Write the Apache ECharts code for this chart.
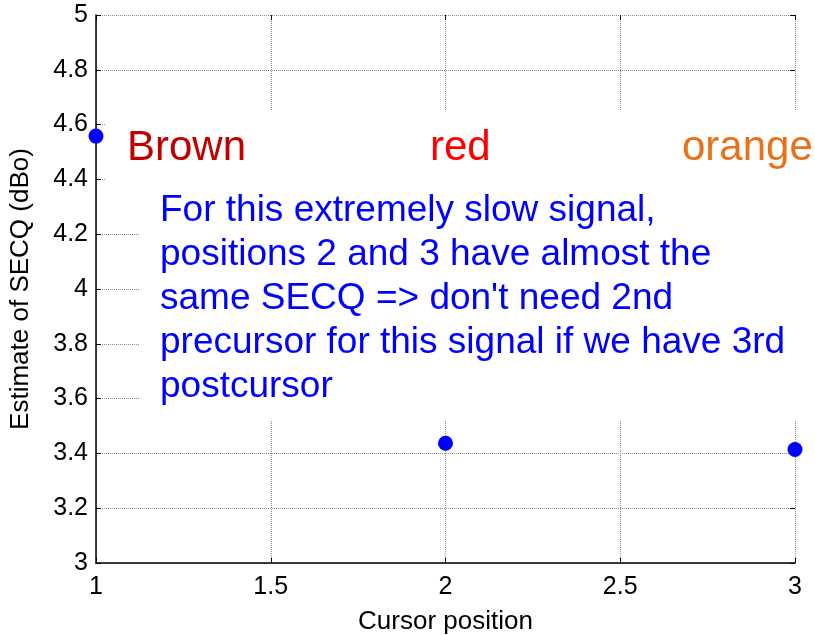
<!DOCTYPE html>
<html>
<head>
<meta charset="utf-8">
<script src="https://cdn.jsdelivr.net/npm/echarts@6/dist/echarts.min.js"></script>
<style>
  html, body { margin: 0; padding: 0; background: #fff; }
  #chart { width: 815px; height: 635px; }
</style>
</head>
<body>
<div id="chart"></div>
<script>
// cursor positions and SECQ estimates
const positions = [1, 2, 3];
const secq = [4.558, 3.437, 3.414];
// annotation texts
const colorNames = ["Brown", "red", "orange"];
const noteLines = [
  "For this extremely slow signal,",
  "positions 2 and 3 have almost the",
  "same SECQ => don't need 2nd",
  "precursor for this signal if we have 3rd",
  "postcursor"
];

const chart = echarts.init(document.getElementById("chart"));
const font = "Liberation Sans, Arial, sans-serif";

// shared settings for the frame axes (ticks pointing inward)
const gridLine = { show: true, lineStyle: { color: "#8a8a8a", width: 1, type: [1, 1] } };
const inTick = { show: true, inside: true, length: 5, lineStyle: { color: "#000" } };

const option = {
  backgroundColor: "#fff",
  animation: false,
  grid: { left: 96, right: 20, top: 15, bottom: 72, containLabel: false, outerBoundsMode: "none" },
  xAxis: [
    {
      type: "value", min: 1, max: 3, interval: 0.5,
      name: "Cursor position", nameLocation: "middle", nameGap: 46,
      nameTextStyle: { fontFamily: font, fontSize: 26, color: "#000" },
      axisLine: { show: true, onZero: false, lineStyle: { color: "#000", width: 1.5 } },
      axisTick: inTick,
      axisLabel: { fontFamily: font, fontSize: 25, color: "#000", margin: 12 },
      splitLine: gridLine
    },
    {
      type: "value", min: 1, max: 3, interval: 0.5, position: "top",
      axisLine: { show: false }, axisTick: inTick, axisLabel: { show: false }, splitLine: { show: false }
    }
  ],
  yAxis: [
    {
      type: "value", min: 3, max: 5, interval: 0.2,
      name: "Estimate of SECQ (dBo)", nameLocation: "middle", nameGap: 62,
      nameTextStyle: { fontFamily: font, fontSize: 26, color: "#000" },
      axisLine: { show: true, onZero: false, lineStyle: { color: "#000", width: 1.5 } },
      axisTick: inTick,
      axisLabel: { fontFamily: font, fontSize: 25, color: "#000", margin: 8,
        formatter: v => String(Math.round(v * 10) / 10) },
      splitLine: gridLine
    },
    {
      type: "value", min: 3, max: 5, interval: 0.2, position: "right",
      axisLine: { show: false }, axisTick: inTick, axisLabel: { show: false }, splitLine: { show: false }
    }
  ],
  series: [
    {
      type: "scatter",
      z: 10,
      symbol: "circle",
      symbolSize: 15,
      itemStyle: { color: "#0000ff", opacity: 1 },
      data: positions.map((p, i) => [p, secq[i]])
    }
  ],
  graphic: [
    // white text backgrounds hiding the grid
    { type: "rect", z: 3, shape: { x: 105, y: 110, width: 720, height: 80 }, style: { fill: "#fff" } },
    { type: "rect", z: 3, shape: { x: 140, y: 185, width: 680, height: 235 }, style: { fill: "#fff" } },
    { type: "text", z: 4, x: 127, y: 148,
      style: { text: colorNames[0], fill: "#c00000", font: "42px " + font, verticalAlign: "middle" } },
    { type: "text", z: 4, x: 430, y: 148,
      style: { text: colorNames[1], fill: "#ff0000", font: "42px " + font, verticalAlign: "middle" } },
    { type: "text", z: 4, x: 682, y: 148,
      style: { text: colorNames[2], fill: "#e8711a", font: "42px " + font, verticalAlign: "middle" } },
    { type: "text", z: 4, x: 160, y: 189,
      style: { text: noteLines.join("\n"), fill: "#0000ff", font: "37px " + font,
        lineHeight: 44, verticalAlign: "top" } }
  ]
};

chart.setOption(option);
</script>
</body>
</html>
